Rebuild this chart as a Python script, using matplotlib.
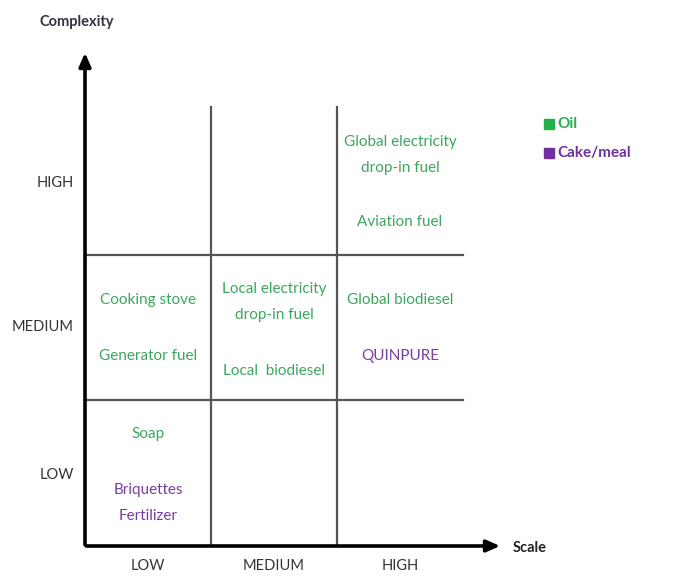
import matplotlib.pyplot as plt

# categories
scale_levels = ["LOW", "MEDIUM", "HIGH"]
complexity_levels = ["LOW", "MEDIUM", "HIGH"]

# products: label, product type, scale index, complexity index
items = [
    ("Global electricity\ndrop-in fuel", "Oil", 2, 2),
    ("Aviation fuel", "Oil", 2, 2),
    ("Cooking stove", "Oil", 0, 1),
    ("Generator fuel", "Oil", 0, 1),
    ("Local electricity\ndrop-in fuel", "Oil", 1, 1),
    ("Local  biodiesel", "Oil", 1, 1),
    ("Global biodiesel", "Oil", 2, 1),
    ("QUINPURE", "Cake/meal", 2, 1),
    ("Soap", "Oil", 0, 0),
    ("Briquettes\nFertilizer", "Cake/meal", 0, 0),
]
legend_names = ["Oil", "Cake/meal"]

# layout (pixel space)
col_edges = [85, 211, 337, 463]
row_edges = [546, 400, 255, 107]
item_y = [155, 222, 300, 356, 302, 371, 300, 356, 434, 503]
text_colors = {"Oil": "#3da65e", "Cake/meal": "#7a3f9e"}
box_colors = {"Oil": "#22b04b", "Cake/meal": "#7030a0"}
font = "Lato"

fig = plt.figure(figsize=(6.73, 5.77), dpi=100)
ax = fig.add_axes([0, 0, 1, 1])
ax.set_xlim(0, 673)
ax.set_ylim(577, 0)
ax.axis("off")

# grid lines
for x in col_edges[1:3]:
    ax.plot([x, x], [row_edges[0], row_edges[3]], color="#555555", lw=1.6)
for y in row_edges[1:3]:
    ax.plot([col_edges[0], col_edges[3]], [y, y], color="#555555", lw=1.6)

# axes with arrows
ax.annotate("", xy=(col_edges[0], 50), xytext=(col_edges[0], row_edges[0] + 1.5),
            arrowprops=dict(arrowstyle="-|>,head_length=0.8,head_width=0.35", lw=2.6, color="black"))
ax.annotate("", xy=(503, row_edges[0]), xytext=(col_edges[0] - 1.5, row_edges[0]),
            arrowprops=dict(arrowstyle="-|>,head_length=0.8,head_width=0.35", lw=2.6, color="black"))

ax.text(40, 22, "Complexity", fontsize=10.5, fontweight="bold", family=font, color="#3a3040",
        va="center", ha="left")
ax.text(513, 548, "Scale", fontsize=10.5, fontweight="bold", family=font, color="#222222",
        va="center", ha="left")

# tick labels
for i, lab in enumerate(scale_levels):
    xc = (col_edges[i] + col_edges[i + 1]) / 2
    ax.text(xc, 566, lab, fontsize=10.5, family=font, color="#333333", ha="center", va="center")
complexity_y = [475, 327, 183]
for lab, y in zip(complexity_levels, complexity_y):
    ax.text(74, y, lab, fontsize=10.5, family=font, color="#333333", ha="right", va="center")

# items
for (label, kind, sx, cy), y in zip(items, item_y):
    xc = (col_edges[sx] + col_edges[sx + 1]) / 2
    ax.text(xc, y, label, fontsize=11, family=font, color=text_colors[kind],
            ha="center", va="center", linespacing=2.05)

# legend
for k, name in enumerate(legend_names):
    y = 124 + 29 * k
    ax.plot(549, y, marker="s", ms=6.5, color=box_colors[name], linestyle="none")
    ax.text(557, y, name, fontsize=11, fontweight="bold", family=font,
            color=box_colors[name], ha="left", va="center")

fig.savefig("out.png", dpi=100)
